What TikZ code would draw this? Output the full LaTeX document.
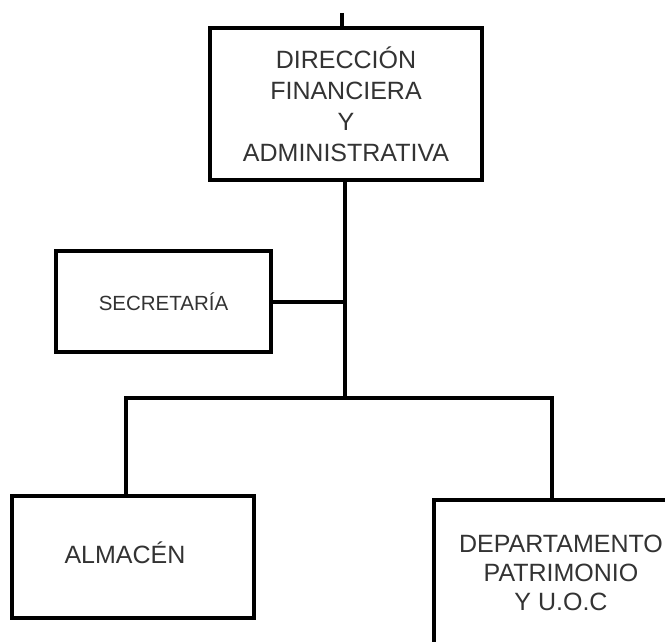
\documentclass[tikz,border=0pt]{standalone}
\usepackage{fontspec}
\setmainfont{Liberation Sans}
\begin{document}
\begin{tikzpicture}[
  x=1pt, y=-1pt,
  unitbox/.style={draw=black, line width=4pt, fill=white, align=center, inner sep=0pt,
    text=black!80, font=\fontsize{25}{31}\selectfont},
  link/.style={draw=black, line width=4pt}
]
  \useasboundingbox (0,0) rectangle (665,642);

  % === BOXES ===
  \node[unitbox, minimum width=272pt, minimum height=152pt] (dir) at (346,104)
    {DIRECCIÓN\\FINANCIERA\\Y\\ADMINISTRATIVA};
  \node[unitbox, minimum width=215pt, minimum height=101pt,
    font=\fontsize{20.5}{25}\selectfont] (sec) at (163.5,301.5) {SECRETARÍA};
  \node[unitbox, minimum width=242pt, minimum height=122pt] (alm) at (133,557)
    {\raisebox{9pt}{ALMACÉN\hspace*{16pt}}};
  \node[unitbox, minimum width=254pt, minimum height=146pt,
    font=\fontsize{25}{29}\selectfont] (dep) at (561,573)
    {DEPARTAMENTO\\PATRIMONIO\\Y U.O.C};

  % === CONNECTORS ===
  \coordinate (above) at (342,13);
  \coordinate (split) at (345,398);
  \coordinate (lft) at (126,398);
  \coordinate (rgt) at (552,398);

  \draw[link] (above) -- (above |- dir.north);
  \draw[link] (split |- dir.south) -- (split);
  \draw[link] (sec.east) -- (sec.east -| split);
  \draw[link] (alm.north -| lft) -- (lft) -- (rgt) -- (dep.north -| rgt);
\end{tikzpicture}
\end{document}
